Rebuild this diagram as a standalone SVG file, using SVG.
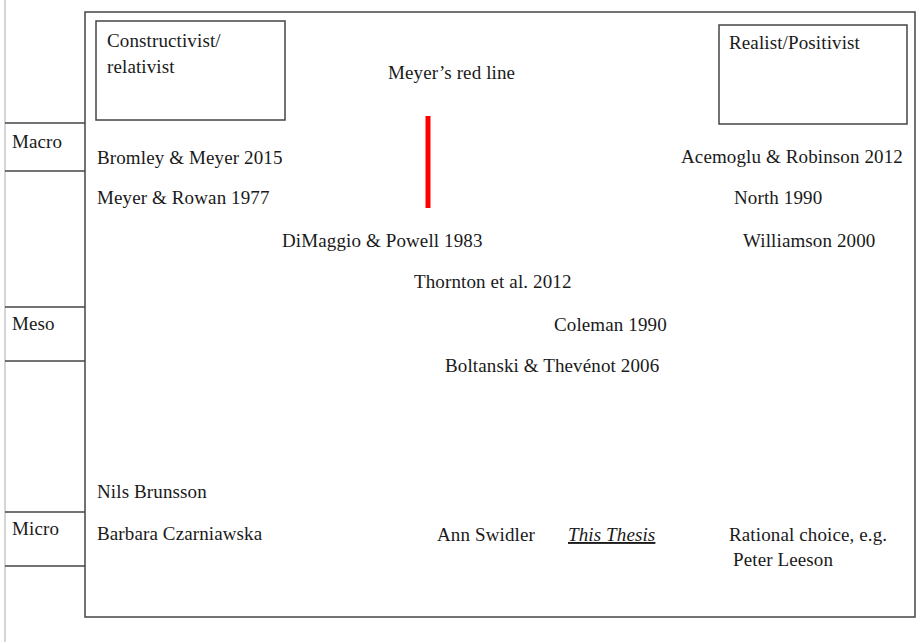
<svg xmlns="http://www.w3.org/2000/svg" width="922" height="642" viewBox="0 0 922 642">
<style>
text{font-family:"Liberation Serif","Times New Roman",serif;font-size:19px;fill:#1a1a1a;letter-spacing:0.12px;}
.frame{fill:none;stroke:#444;stroke-width:1.5;}
.row{stroke:#444;stroke-width:1.5;}
.ital{font-style:italic;text-decoration:underline;}
</style>
<rect width="922" height="642" fill="#fff"/>
<g id="axis">
<line x1="5" y1="0" x2="5" y2="642" stroke="#c8c8c8" stroke-width="1.5"/>
<line class="row" x1="5" y1="123" x2="85" y2="123"/>
<line class="row" x1="5" y1="171" x2="85" y2="171"/>
<line class="row" x1="5" y1="307" x2="85" y2="307"/>
<line class="row" x1="5" y1="361" x2="85" y2="361"/>
<line class="row" x1="5" y1="512" x2="85" y2="512"/>
<line class="row" x1="5" y1="566" x2="85" y2="566"/>
</g>
<g id="macro"><text x="12" y="148">Macro</text></g>
<g id="meso"><text x="12" y="330">Meso</text></g>
<g id="micro"><text x="12" y="535">Micro</text></g>
<g id="frame"><rect class="frame" x="85" y="12" width="830" height="605"/></g>
<g id="constructivist">
<rect class="frame" x="96" y="21" width="189" height="99"/>
<text x="107" y="47">Constructivist/</text>
<text x="107" y="73">relativist</text>
</g>
<g id="realist">
<rect class="frame" x="719" y="25" width="188" height="99"/>
<text x="729" y="49">Realist/Positivist</text>
</g>
<g id="redline">
<text x="388" y="79">Meyer’s red line</text>
<line x1="428" y1="116" x2="428" y2="208" stroke="#ff0000" stroke-width="5"/>
</g>
<g id="connectors"></g>
<g id="bromley"><text x="97" y="164">Bromley &amp; Meyer 2015</text></g>
<g id="meyer-rowan"><text x="97" y="204">Meyer &amp; Rowan 1977</text></g>
<g id="acemoglu"><text x="681" y="163">Acemoglu &amp; Robinson 2012</text></g>
<g id="north"><text x="734" y="204">North 1990</text></g>
<g id="williamson"><text x="743" y="247">Williamson 2000</text></g>
<g id="dimaggio"><text x="282" y="247">DiMaggio &amp; Powell 1983</text></g>
<g id="thornton"><text x="414" y="288">Thornton et al. 2012</text></g>
<g id="coleman"><text x="554" y="331">Coleman 1990</text></g>
<g id="boltanski"><text x="445" y="372">Boltanski &amp; Thevénot 2006</text></g>
<g id="brunsson"><text x="97" y="498">Nils Brunsson</text></g>
<g id="czarniawska"><text x="97" y="540">Barbara Czarniawska</text></g>
<g id="swidler"><text x="437" y="541">Ann Swidler</text></g>
<g id="thesis"><text class="ital" x="568" y="541">This Thesis</text></g>
<g id="rational">
<text x="729" y="541">Rational choice, e.g.</text>
<text x="733" y="566">Peter Leeson</text>
</g>
</svg>
